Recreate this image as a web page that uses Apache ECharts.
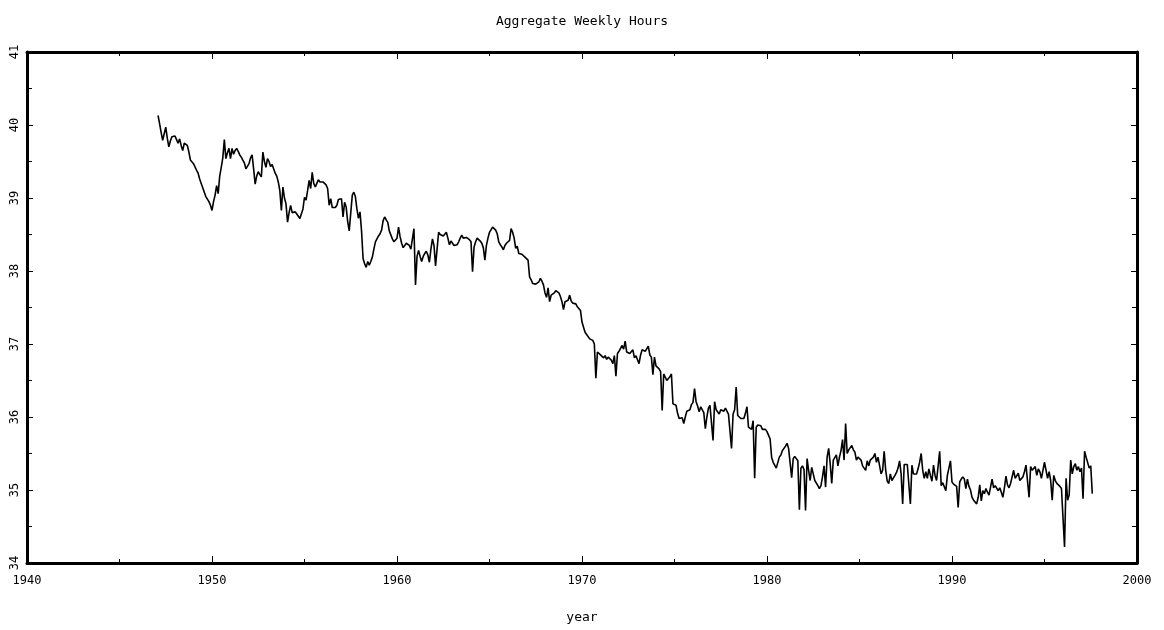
<!DOCTYPE html>
<html>
<head>
<meta charset="utf-8">
<script src="https://cdn.jsdelivr.net/npm/echarts@6/dist/echarts.min.js"></script>
<style>
html,body{margin:0;padding:0;background:#fff;}
#chart{width:1164px;height:630px;}
</style>
</head>
<body>
<div id="chart"></div>
<script>
const chartTitle = 'Aggregate Weekly Hours';
const xName = 'year';
const startYear = 1947; // first monthly observation: Jan 1947
const hours = [
// 1947
40.13,40.02,39.90,39.79,39.88,39.97,39.82,39.70,39.78,39.84,39.83,39.85,
// 1948
39.80,39.75,39.81,39.72,39.65,39.75,39.74,39.72,39.63,39.52,39.54,39.47,
// 1949
39.45,39.38,39.34,39.26,39.20,39.14,39.08,39.02,39.00,38.95,38.90,38.83,
// 1950
38.95,39.04,39.17,39.06,39.30,39.42,39.55,39.80,39.54,39.62,39.68,39.54,
// 1951
39.68,39.60,39.65,39.68,39.64,39.59,39.56,39.52,39.48,39.40,39.38,39.47,
// 1952
39.55,39.59,39.40,39.19,39.30,39.36,39.32,39.29,39.63,39.50,39.42,39.54,
// 1953
39.50,39.43,39.46,39.45,39.34,39.30,39.22,39.10,38.83,39.15,39.00,38.92,
// 1954
38.67,38.80,38.90,38.80,38.79,38.81,38.78,38.76,38.72,38.71,38.85,39.01,
// 1955
38.97,39.10,39.24,39.13,39.35,39.20,39.15,39.20,39.25,39.22,39.20,39.22,
// 1956
39.22,39.18,39.13,38.90,38.99,38.87,38.88,38.87,38.90,38.98,38.97,38.99,
// 1957
38.74,38.94,38.88,38.68,38.55,38.56,39.04,39.08,39.02,38.85,38.72,38.81,
// 1958
38.55,38.17,38.10,38.05,38.13,38.08,38.13,38.19,38.30,38.40,38.44,38.48,
// 1959
38.51,38.56,38.69,38.74,38.70,38.67,38.55,38.53,38.44,38.40,38.38,38.45,
// 1960
38.60,38.47,38.38,38.32,38.35,38.38,38.37,38.35,38.30,38.30,38.58,37.81,
// 1961
38.20,38.28,38.20,38.13,38.20,38.24,38.27,38.22,38.12,38.30,38.44,38.35,
// 1962
38.07,38.30,38.53,38.50,38.51,38.48,38.49,38.53,38.45,38.36,38.41,38.38,
// 1963
38.35,38.33,38.36,38.40,38.45,38.49,38.45,38.46,38.46,38.45,38.43,38.40,
// 1964
37.99,38.33,38.40,38.45,38.43,38.41,38.38,38.32,38.15,38.35,38.45,38.53,
// 1965
38.55,38.60,38.58,38.56,38.51,38.40,38.36,38.33,38.29,38.35,38.38,38.40,
// 1966
38.42,38.58,38.53,38.45,38.31,38.34,38.24,38.25,38.23,38.21,38.19,38.17,
// 1967
38.15,37.92,37.88,37.83,37.85,37.82,37.83,37.85,37.90,37.86,37.81,37.70,
// 1968
37.64,37.77,37.58,37.67,37.69,37.70,37.73,37.72,37.70,37.65,37.58,37.47,
// 1969
37.58,37.56,37.60,37.67,37.59,37.56,37.57,37.55,37.51,37.50,37.46,37.30,
// 1970
37.23,37.16,37.13,37.11,37.07,37.06,37.05,37.00,36.53,36.89,36.87,36.85,
// 1971
36.85,36.81,36.84,36.79,36.82,36.84,36.78,36.73,36.84,36.56,36.87,36.90,
// 1972
36.89,36.98,36.93,37.04,36.89,36.88,36.87,36.88,36.92,36.81,36.84,36.82,
// 1973
36.73,36.85,36.92,36.91,36.90,36.90,36.97,36.85,36.82,36.58,36.82,36.70,
// 1974
36.68,36.66,36.62,36.09,36.59,36.59,36.50,36.49,36.55,36.59,36.18,36.16,
// 1975
36.16,36.05,35.98,35.98,35.99,35.91,36.00,36.08,36.09,36.10,36.17,36.20,
// 1976
36.39,36.21,36.15,36.07,36.14,36.12,36.06,35.84,36.00,36.12,36.16,36.16,
// 1977
35.68,36.21,36.10,36.12,36.04,36.10,36.08,36.08,36.12,36.12,36.04,36.04,
// 1978
35.57,36.04,36.10,36.41,36.02,36.02,35.98,35.96,35.98,36.05,36.14,35.86,
// 1979
35.86,35.83,35.95,35.16,35.86,35.89,35.91,35.88,35.83,35.82,35.83,35.80,
// 1980
35.80,35.70,35.45,35.38,35.36,35.30,35.28,35.45,35.48,35.54,35.57,35.60,
// 1981
35.64,35.57,35.59,35.17,35.43,35.46,35.43,35.40,34.73,35.30,35.33,35.28,
// 1982
34.72,35.43,35.27,35.13,35.31,35.22,35.13,35.11,35.06,35.02,35.06,35.18,
// 1983
35.33,35.04,35.45,35.57,35.36,35.09,35.41,35.43,35.48,35.33,35.45,35.54,
// 1984
35.69,35.41,35.91,35.50,35.55,35.57,35.61,35.55,35.52,35.41,35.45,35.44,
// 1985
35.41,35.33,35.30,35.27,35.40,35.33,35.41,35.41,35.45,35.50,35.38,35.45,
// 1986
35.45,35.22,35.27,35.53,35.27,35.12,35.09,35.22,35.13,35.15,35.20,35.24,
// 1987
35.30,35.40,35.22,34.81,35.35,35.34,35.35,35.33,34.81,35.34,35.22,35.22,
// 1988
35.22,35.29,35.38,35.50,35.27,35.16,35.25,35.16,35.29,35.20,35.12,35.34,
// 1989
35.20,35.13,35.13,35.53,35.06,35.10,35.11,34.99,35.20,35.30,35.40,35.11,
// 1990
35.08,35.10,35.05,34.76,35.11,35.15,35.18,35.15,35.02,35.15,35.05,35.00,
// 1991
34.90,34.86,34.88,34.81,34.90,35.07,34.85,34.99,34.95,35.02,34.97,34.93,
// 1992
34.93,35.15,35.03,35.06,35.06,34.99,35.03,34.97,34.90,35.03,35.19,35.07,
// 1993
35.03,35.09,35.07,35.27,35.16,35.16,35.23,35.13,35.11,35.18,35.25,35.34,
// 1994
35.34,34.90,35.32,35.27,35.25,35.32,35.20,35.29,35.25,35.16,35.27,35.38,
// 1995
35.38,35.16,35.25,35.13,34.86,35.20,35.13,35.09,35.09,35.05,35.02,35.00,
// 1996
34.22,35.16,34.86,34.93,35.41,35.22,35.32,35.36,35.27,35.32,35.25,35.30,
// 1997
34.88,35.53,35.45,35.47,35.30,35.33,34.95
];
const xTicks = [1940, 1950, 1960, 1970, 1980, 1990, 2000];
const yTicks = [34, 35, 36, 37, 38, 39, 40, 41];

const seriesData = hours.map((v, i) => [startYear + (i + 1) / 12, v]);

const FONT = '"DejaVu Sans Mono", "Liberation Mono", monospace';
const chart = echarts.init(document.getElementById('chart'));

function xAxisCfg(pos, showLabel) {
  return {
    type: 'value', position: pos,
    min: xTicks[0], max: xTicks[xTicks.length - 1], interval: 10,
    axisLine: { show: true, onZero: false, lineStyle: { color: '#000', width: 3 } },
    axisTick: { show: true, inside: true, length: 7, lineStyle: { color: '#000', width: 1 } },
    minorTick: { show: true, splitNumber: 2, length: 4, lineStyle: { color: '#000', width: 1 } },
    splitLine: { show: false },
    axisLabel: { show: showLabel, color: '#000', fontFamily: FONT, fontSize: 12, margin: 12,
      formatter: v => String(v) },
    name: showLabel ? xName : '',
    nameLocation: 'middle', nameGap: 48,
    nameTextStyle: { color: '#000', fontFamily: FONT, fontSize: 13 }
  };
}
function yAxisCfg(pos, showLabel) {
  return {
    type: 'value', position: pos,
    min: yTicks[0], max: yTicks[yTicks.length - 1], interval: 1,
    axisLine: { show: true, onZero: false, lineStyle: { color: '#000', width: 3 } },
    axisTick: { show: true, inside: true, length: 6, lineStyle: { color: '#000', width: 1 } },
    minorTick: { show: true, splitNumber: 2, length: 5, lineStyle: { color: '#000', width: 1 } },
    splitLine: { show: false },
    axisLabel: { show: showLabel, rotate: 90, color: '#000', fontFamily: FONT, fontSize: 12, margin: 6,
      formatter: v => String(v) }
  };
}

chart.setOption({
  animation: false,
  backgroundColor: '#fff',
  title: {
    text: chartTitle, left: 'center', top: 10,
    textStyle: { color: '#000', fontFamily: FONT, fontSize: 13, fontWeight: 'normal' }
  },
  grid: { left: 27, right: 27, top: 52, bottom: 67, containLabel: false },
  xAxis: [xAxisCfg('bottom', true), xAxisCfg('top', false)],
  yAxis: [yAxisCfg('left', true), yAxisCfg('right', false)],
  series: [{
    type: 'line', xAxisIndex: 0, yAxisIndex: 0,
    data: seriesData, showSymbol: false, symbol: 'none',
    lineStyle: { color: '#000', width: 1.6 },
    z: 1
  }]
});
</script>
</body>
</html>
